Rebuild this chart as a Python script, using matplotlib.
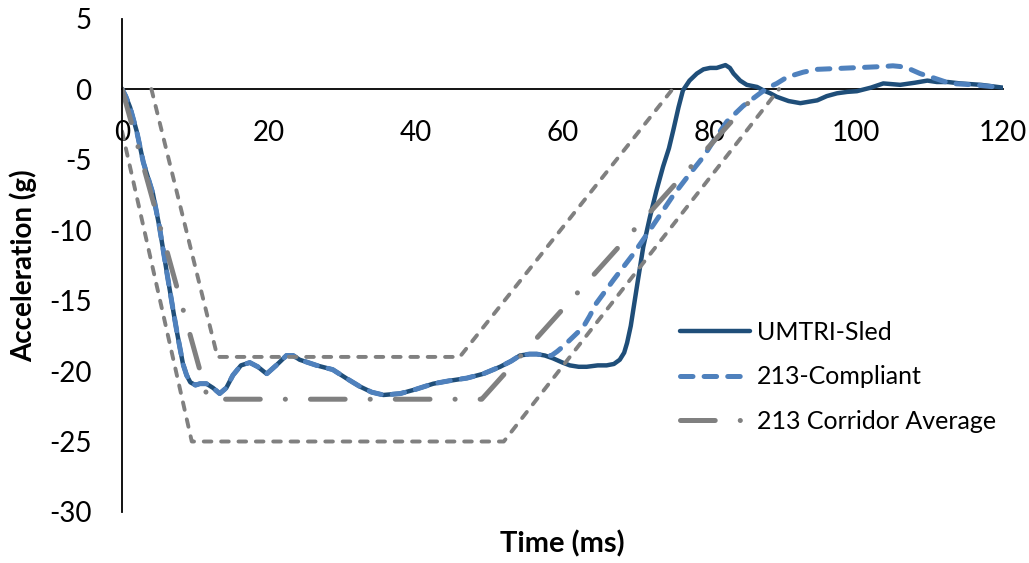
import matplotlib
matplotlib.use('Agg')
import matplotlib.pyplot as plt

plt.rcParams['font.family'] = ['Lato', 'DejaVu Sans']
plt.rcParams['axes.unicode_minus'] = False
plt.rcParams['lines.scale_dashes'] = False

# UMTRI sled pulse
sled_t = [0, 0.5, 1.1, 2.0, 2.9, 4.2, 5.1, 6.1, 7.0, 7.5, 8.3, 8.8, 9.3, 10.0, 10.6, 11.5, 12.4,
          13.3, 14.2, 15.1, 16.2, 17.4, 18.5, 19.7, 21.0, 22.4, 23.3, 24.2, 26.5, 28.7, 30.5,
          32.4, 34.0, 35.6, 37.9, 40.0, 42.4, 44.5, 47, 49.2, 51.5, 53.0, 54.2, 55.5, 56.5, 57.6,
          58.7, 60.0, 61, 62.2, 63.3, 64.8, 66, 67.0, 67.8, 68.4, 68.8, 69.3, 70.2, 71.0, 71.9,
          72.8, 73.7, 74.5, 75.1, 75.8, 76.4, 77.3, 78.3, 79.2, 80.1, 81, 81.6, 82.2, 82.8, 83.3,
          84.2, 85.1, 86.5, 87.4, 88.3, 89.2, 90.8, 92.4, 94.7, 96.0, 97.4, 98.8, 100.1, 102.0,
          103.7, 106, 108.0, 109.7, 111, 112.5, 114.2, 117.0, 120]
sled_g = [0, -0.5, -1.3, -3.0, -5.2, -7.4, -9.8, -13, -15.8, -17.3, -19.5, -20.3, -20.8, -21.0,
          -20.9, -20.9, -21.2, -21.6, -21.2, -20.3, -19.6, -19.4, -19.7, -20.2, -19.6, -18.9,
          -18.9, -19.2, -19.6, -19.9, -20.5, -21.1, -21.5, -21.7, -21.6, -21.3, -20.9, -20.7,
          -20.5, -20.2, -19.7, -19.3, -18.9, -18.8, -18.8, -18.9, -19.1, -19.4, -19.6, -19.7,
          -19.7, -19.6, -19.6, -19.5, -19.2, -18.7, -18.0, -16.8, -13.8, -11.2, -9.1, -7.2, -5.5,
          -4.2, -2.9, -1.3, -0.1, 0.6, 1.1, 1.4, 1.5, 1.5, 1.6, 1.7, 1.5, 1.1, 0.6, 0.3, 0.15,
          -0.1, -0.3, -0.55, -0.85, -1.0, -0.8, -0.5, -0.3, -0.2, -0.15, 0.1, 0.4, 0.3, 0.45, 0.6,
          0.5, 0.5, 0.4, 0.3, 0.1]

# 213-compliant pulse: same as sled up to ~58 ms
comp_t = [0, 0.5, 1.1, 2.0, 2.9, 4.2, 5.1, 6.1, 7.0, 7.5, 8.3, 8.8, 9.3, 10.0, 10.6, 11.5, 12.4,
          13.3, 14.2, 15.1, 16.2, 17.4, 18.5, 19.7, 21.0, 22.4, 23.3, 24.2, 26.5, 28.7, 30.5,
          32.4, 34.0, 35.6, 37.9, 40.0, 42.4, 44.5, 47, 49.2, 51.5, 53.0, 54.2, 55.5, 56.5, 57.6,
          58.5, 59.3, 60.2, 61, 62.0, 62.8, 63.7, 64.6, 67, 69.5, 71.9, 75, 77.2, 79.2, 80.8,
          82.4, 84.6, 86.9, 88.0, 89.2, 90.6, 92.8, 94.7, 97.0, 99.2, 101.5, 103.7, 105.0, 106,
          107.4, 108.7, 110.5, 112.8, 116, 120]
comp_g = [0, -0.5, -1.3, -3.0, -5.2, -7.4, -9.8, -13, -15.8, -17.3, -19.5, -20.3, -20.8, -21.0,
          -20.9, -20.9, -21.2, -21.6, -21.2, -20.3, -19.6, -19.4, -19.7, -20.2, -19.6, -18.9,
          -18.9, -19.2, -19.6, -19.9, -20.5, -21.1, -21.5, -21.7, -21.6, -21.3, -20.9, -20.7,
          -20.5, -20.2, -19.7, -19.3, -18.9, -18.8, -18.8, -18.9, -18.9, -18.6, -18.2, -17.8,
          -17.3, -16.9, -16.1, -15.2, -13.5, -11.8, -10, -7.6, -6.1, -4.8, -3.5, -2.3, -1.2,
          -0.3, 0.1, 0.4, 0.85, 1.2, 1.4, 1.45, 1.5, 1.55, 1.6, 1.65, 1.6, 1.4, 1.1, 0.8, 0.4,
          0.3, 0.1]

# FMVSS 213 corridor
avg_t = [0, 11.7, 49, 87]
avg_g = [0, -22, -22, 0]
upper_t = [4, 13, 46, 75]
upper_g = [0, -19, -19, 0]
lower_t = [0, 9.5, 52, 89.5]
lower_g = [-3, -25, -25, 0]

fig = plt.figure(figsize=(10.29, 5.63), dpi=100)
ax = fig.add_axes([0.1186, 0.0906, 0.8561, 0.8764])

dark = '#1F4E79'
light = '#4F81BD'
gray = '#808080'

ax.plot(sled_t, sled_g, color=dark, lw=3.2, label='UMTRI-Sled',
        solid_capstyle='round', solid_joinstyle='round')
ax.plot(comp_t, comp_g, color=light, lw=3.6, dashes=(9, 8), dash_capstyle='round',
        dash_joinstyle='round', label='213-Compliant')
ax.plot(avg_t, avg_g, color=gray, lw=3.6, dashes=(25, 18, 0.1, 18), dash_capstyle='round',
        label='213 Corridor Average')
ax.plot(upper_t, upper_g, color=gray, lw=2.8, dashes=(5.5, 7), dash_capstyle='round')
ax.plot(lower_t, lower_g, color=gray, lw=2.8, dashes=(5.5, 7), dash_capstyle='round')

ax.set_xlim(0, 120)
ax.set_ylim(-30, 5)
ax.set_xticks(range(0, 121, 20))
ax.set_yticks(range(-30, 6, 5))

for s in ['top', 'right']:
    ax.spines[s].set_visible(False)
ax.spines['bottom'].set_position(('data', 0))
ax.spines['left'].set_position(('data', 0))
ax.spines['bottom'].set_linewidth(1.3)
ax.spines['left'].set_linewidth(1.3)
ax.spines['bottom'].set_zorder(0.5)
ax.tick_params(length=0, labelsize=20, pad=22)
ax.tick_params(axis='y', pad=22)

ax.set_xlabel('Time (ms)', fontsize=21, fontweight='bold')
ax.xaxis.set_label_coords(0.5, -0.038)
ax.set_ylabel('Acceleration (g)', fontsize=20, fontweight='bold')
ax.yaxis.set_label_coords(-0.096, 0.5)

ax.legend(loc='center left', bbox_to_anchor=(0.633, 0.274), frameon=False, fontsize=18,
          handlelength=2.8, handletextpad=0.3, labelspacing=0.85, borderpad=0,
          borderaxespad=0)

fig.savefig('out.png', dpi=100)
